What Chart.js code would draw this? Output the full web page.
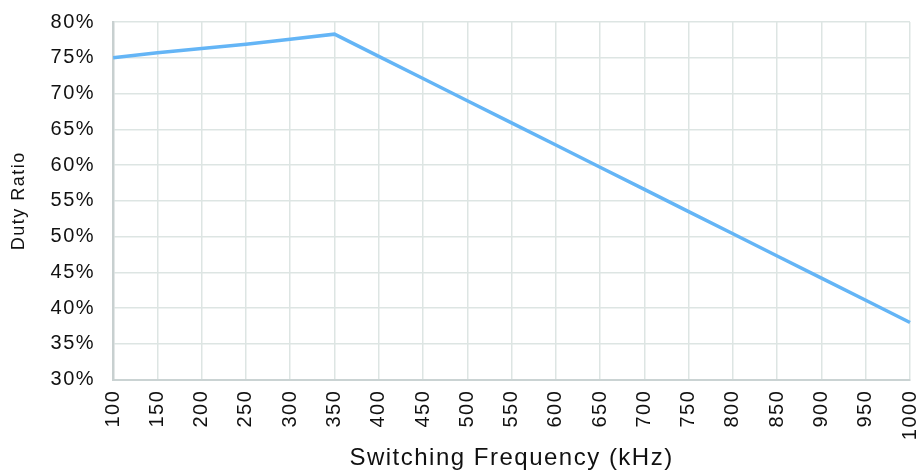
<!DOCTYPE html>
<html>
<head>
<meta charset="utf-8">
<script src="https://cdn.jsdelivr.net/npm/chart.js@4/dist/chart.umd.min.js"></script>
<style>
  html, body { margin: 0; padding: 0; background: #fff; }
  #wrap { width: 919px; height: 473px; position: relative; }
</style>
</head>
<body>
<div id="wrap"><canvas id="chart"></canvas></div>
<script>
const frequencies = ['100', '150', '200', '250', '300', '350', '400', '450', '500', '550',
                     '600', '650', '700', '750', '800', '850', '900', '950', '1000'];
const dutyRatio = [75.0, 75.7, 76.3, 76.9, 77.6, 78.3, 75.2, 72.1, 69.0, 65.9,
                   62.8, 59.7, 56.6, 53.5, 50.4, 47.3, 44.2, 41.1, 38.0];
const yMin = 30, yMax = 80, yStep = 5;

const gridColor = '#dde5e3';
const fontFamily = '"Liberation Sans", Arial, sans-serif';

// the reference text is set wider than Liberation Sans, so space the letters a bit
const spacing = {
    id: 'spacing',
    beforeUpdate(chart) { chart.ctx.letterSpacing = '1.5px'; },
    beforeDraw(chart) { chart.ctx.letterSpacing = '1.5px'; }
};

new Chart(document.getElementById('chart'), {
    type: 'line',
    data: {
        labels: frequencies,
        datasets: [{
            label: 'Duty Ratio',
            data: dutyRatio,
            borderColor: '#64b5f6',
            borderWidth: 3.5,
            pointRadius: 0,
            tension: 0,
            fill: false
        }]
    },
    options: {
        responsive: true,
        maintainAspectRatio: false,
        animation: false,
        layout: { padding: { top: 5, right: 0, left: 8, bottom: 0 } },
        plugins: { legend: { display: false }, tooltip: { enabled: false } },
        scales: {
            x: {
                offset: false,
                afterFit(scale) { scale.paddingRight = 9; },
                grid: { color: gridColor, lineWidth: 1.5, drawTicks: false },
                border: { color: '#cad3d3', width: 2 },
                ticks: {
                    color: '#111', font: { family: fontFamily, size: 20 },
                    maxRotation: 90, minRotation: 90, padding: 10, autoSkip: false
                },
                title: {
                    display: true, text: 'Switching Frequency (kHz)', color: '#111',
                    font: { family: fontFamily, size: 24 }, padding: { top: -6, bottom: 0 }
                }
            },
            y: {
                min: yMin, max: yMax,
                afterFit(scale) { scale.paddingTop = 22; },
                grid: { color: gridColor, lineWidth: 1.5, drawTicks: false },
                border: { color: '#c8d0d0', width: 2.5 },
                ticks: {
                    stepSize: yStep, color: '#111', font: { family: fontFamily, size: 20 },
                    padding: 18, callback: v => v + '%'
                },
                title: {
                    display: true, text: 'Duty Ratio', color: '#111',
                    font: { family: fontFamily, size: 18 }, padding: { top: 0, bottom: 3 }
                }
            }
        }
    },
    plugins: [spacing]
});
</script>
</body>
</html>
